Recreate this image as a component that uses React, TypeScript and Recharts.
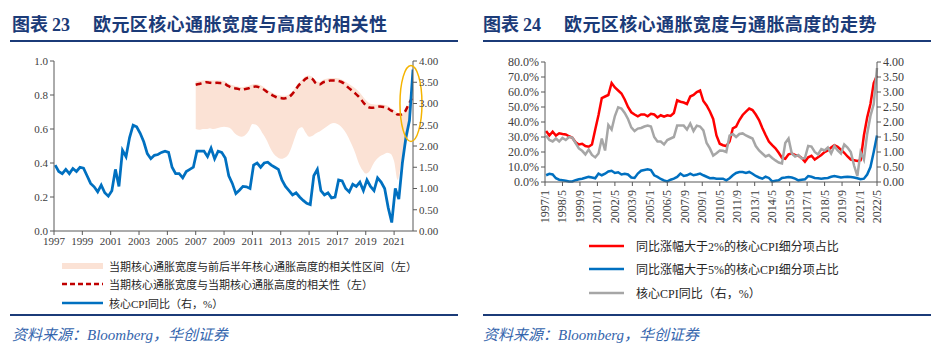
import React from "react";
import { ComposedChart, Line, Area, XAxis, YAxis, ReferenceDot } from "recharts";

// core CPI yoy (%), quarterly samples at month index 1, 4, 7 ... 304 (1997/2 .. 2022/5)
const cpiYoY = [
  1.55, 1.4, 1.35, 1.45, 1.35, 1.47, 1.4, 1.5, 1.48, 1.3,
  1.12, 1.04, 0.92, 1.08, 0.9, 0.82, 0.95, 1.45, 1.05, 1.9,
  1.75, 2.2, 2.49, 2.45, 2.3, 2.1, 1.82, 1.7, 1.78, 1.8,
  1.85, 1.88, 1.85, 1.5, 1.35, 1.35, 1.25, 1.4, 1.45, 1.5,
  1.88, 1.88, 1.88, 1.75, 1.95, 1.7, 1.88, 1.85, 1.72, 1.3,
  1.12, 0.88, 0.96, 1.05, 1.04, 1.0, 1.55, 1.6, 1.5, 1.6,
  1.62, 1.55, 1.5, 1.45, 1.2, 1.05, 0.95, 0.85, 0.9, 0.8,
  0.72, 0.65, 0.62, 1.3, 1.45, 0.95, 0.85, 0.9, 0.78, 0.8,
  1.2, 1.18, 1.0, 0.92, 1.1, 1.05, 1.15, 0.95, 1.2, 1.05,
  0.95, 1.25, 1.15, 1.0, 0.55, 0.2, 1.0, 0.75, 1.6, 2.2,
  2.6, 3.8,
];

// share of core CPI items with yoy > 2% (%)
const share2pct = [
  34, 31, 33.5, 31, 32.5, 32, 31.7, 30.5, 29.5, 26.5,
  25, 25.5, 24, 23.5, 25, 35, 44.7, 56, 57, 58,
  66, 63, 61, 59, 55, 50, 46.5, 45, 43.8, 45,
  45, 43.8, 45.5, 45, 43, 44.5, 43.5, 44.5, 44, 46,
  54.5, 53.5, 53, 52, 57, 58, 60, 61, 54, 51,
  47, 42, 31, 25.5, 24.5, 24, 27, 35.8, 37, 41.3,
  44.7, 46.9, 49, 48, 45, 41.3, 36, 31.3, 27, 24.6,
  22.5, 19.5, 16, 15.5, 18.5, 19, 18, 17.5, 16, 13.5,
  16.5, 17.5, 15, 16.5, 18, 20, 21, 23, 24.5, 23.5,
  21.5, 19.5, 17, 15, 14.5, 14, 14.5, 31, 43, 52,
  66, 71,
];

// share of core CPI items with yoy > 5% (%)
const share5pct = [
  4.5, 5.5, 5, 2.5, 1.5, 1.2, 0.8, 0.4, 0.4, 1.2,
  1.8, 2.2, 2.8, 3.4, 3, 2.5, 5.6, 4.5, 5.5, 7,
  7.5, 6, 6.5, 5, 5.5, 5, 3, 2.7, 5.6, 7.5,
  8, 8.5, 8, 4.5, 3.4, 2, 1, 0.4, 1.5, 2.2,
  3.4, 5.6, 4, 4.5, 5.6, 4.5, 5, 5.6, 4.5, 3.5,
  2.5, 2.7, 2.2, 2.2, 2.2, 1.1, 2.5, 4.5, 6, 6.7,
  6.7, 6, 6.7, 5.5, 4, 3, 2.2, 3.5, 2.7, 0.4,
  0.8, 1.1, 2.7, 3, 3.4, 3, 2.2, 1.1, 1.5, 1.8,
  4, 3.5, 2.7, 2.5, 2.2, 2.5, 2.7, 3.5, 4, 3.5,
  3, 3.4, 3.5, 3.4, 3, 2.5, 1.8, 2.2, 5, 10,
  20, 31,
];

// correlation, quarterly from 2007 Q1
const corrLine = [
  0.86, 0.865, 0.87, 0.875, 0.872, 0.87, 0.872, 0.87, 0.868, 0.855,
  0.845, 0.84, 0.836, 0.83, 0.835, 0.84, 0.848, 0.85, 0.845, 0.835,
  0.82, 0.806, 0.795, 0.785, 0.782, 0.78, 0.785, 0.8, 0.825, 0.855,
  0.875, 0.895, 0.902, 0.893, 0.868, 0.862, 0.875, 0.88, 0.885, 0.886,
  0.884, 0.878, 0.865, 0.845, 0.828, 0.81, 0.79, 0.765, 0.74, 0.727,
  0.725, 0.728, 0.732, 0.73, 0.725, 0.71, 0.7, 0.685, 0.685, 0.7,
  0.74, 0.78,
];
const corrLow = [
  0.6, 0.595, 0.6, 0.6, 0.605, 0.6, 0.605, 0.61, 0.613, 0.61,
  0.6, 0.575, 0.56, 0.555, 0.565, 0.59, 0.63, 0.625, 0.605, 0.57,
  0.535, 0.49, 0.455, 0.435, 0.425, 0.43, 0.445, 0.49, 0.55, 0.6,
  0.61, 0.58, 0.555, 0.56, 0.575, 0.585, 0.6, 0.615, 0.63, 0.635,
  0.63, 0.615, 0.59, 0.555, 0.51, 0.46, 0.4, 0.36, 0.338, 0.35,
  0.39, 0.42, 0.44, 0.45, 0.46, 0.455, 0.41, 0.3, 0.4, 0.48,
  0.56, 0.72,
];
const corrHigh = [
  0.88, 0.882, 0.885, 0.888, 0.886, 0.885, 0.886, 0.885, 0.882, 0.87,
  0.86, 0.855, 0.85, 0.846, 0.85, 0.855, 0.862, 0.864, 0.86, 0.85,
  0.835, 0.82, 0.81, 0.8, 0.797, 0.795, 0.8, 0.815, 0.84, 0.87,
  0.89, 0.91, 0.915, 0.905, 0.882, 0.877, 0.89, 0.895, 0.9, 0.9,
  0.898, 0.893, 0.882, 0.868, 0.855, 0.84, 0.82, 0.795, 0.77, 0.752,
  0.745, 0.742, 0.745, 0.742, 0.738, 0.725, 0.712, 0.695, 0.69, 0.705,
  0.745, 0.785,
];

const yearTicks = [1997, 1999, 2001, 2003, 2005, 2007, 2009, 2011, 2013, 2015, 2017, 2019, 2021];
const corrTicks = [0, 0.2, 0.4, 0.6, 0.8, 1.0];
const cpiTicks = [0, 0.5, 1, 1.5, 2, 2.5, 3, 3.5, 4];
const pctTicks = [0, 10, 20, 30, 40, 50, 60, 70, 80];
const monthTicks = [0, 16, 32, 48, 64, 80, 96, 112, 128, 144, 160, 176, 192, 208, 224, 240, 256, 272, 288, 304];
const monthLabels = [
  "1997/1", "1998/5", "1999/9", "2001/1", "2002/5", "2003/9", "2005/1", "2006/5", "2007/9", "2009/1",
  "2010/5", "2011/9", "2013/1", "2014/5", "2015/9", "2017/1", "2018/5", "2019/9", "2021/1", "2022/5",
];

const monthRows = cpiYoY.map((v, k) => ({
  m: 1 + 3 * k,
  year: 1997 + (1 + 3 * k) / 12,
  cpi: v,
  s2: share2pct[k],
  s5: share5pct[k],
}));
const corrRows = corrLine.map((v, k) => ({ year: 2007 + k / 4, corr: v, band: [corrLow[k], corrHigh[k]] }));

const NAVY = "#1b3b78";
const CJK = '"Noto Sans CJK SC", sans-serif';
const SERIF = '"Liberation Serif", "Times New Roman", serif';
const axisStroke = "#595959";
const tickText = { fill: "#404040", fontSize: 11, fontFamily: SERIF };

const MonthTick = (props: any) => {
  const { x, y, payload } = props;
  const label = monthLabels[monthTicks.indexOf(payload.value)];
  return (
    <text x={x} y={y + 2} transform={`rotate(-90 ${x} ${y + 2})`} textAnchor="end" dominantBaseline="central" fill="#404040" fontSize={12} fontFamily={SERIF}>
      {label}
    </text>
  );
};

const Title = ({ left, num, text }: { left: number; num: string; text: string }) => (
  <>
    <div style={{ position: "absolute", left, top: 10, fontFamily: CJK, fontWeight: 700, fontSize: 18, color: NAVY, whiteSpace: "nowrap" }}>
      图表 <span style={{ fontFamily: SERIF }}>{num}</span>
    </div>
    <div style={{ position: "absolute", left: left + 81, top: 10, fontFamily: CJK, fontWeight: 700, fontSize: 18, color: NAVY, whiteSpace: "nowrap", letterSpacing: 0.4 }}>
      {text}
    </div>
  </>
);

const Rule = ({ left, top }: { left: number; top: number }) => (
  <div style={{ position: "absolute", left, top, width: 448, height: 2, background: NAVY }} />
);

const Source = ({ left }: { left: number }) => (
  <div style={{ position: "absolute", left, top: 323, fontSize: 15, fontStyle: "italic", color: "#3465ad", fontFamily: `${SERIF}, ${CJK}`, whiteSpace: "nowrap" }}>
    资料来源：Bloomberg，华创证券
  </div>
);

const LegendRow = ({ left, top, swatch, text, size }: { left: number; top: number; swatch: React.ReactNode; text: string; size: number }) => (
  <div style={{ position: "absolute", left, top: top - 9, height: 18, display: "flex", alignItems: "center", whiteSpace: "nowrap" }}>
    <svg width={42} height={10} style={{ marginRight: 5 }}>{swatch}</svg>
    <span style={{ fontFamily: `${SERIF}, ${CJK}`, fontSize: size, color: "#262626" }}>{text}</span>
  </div>
);

export default function App() {
  return (
    <div style={{ position: "absolute", left: 0, top: 0, width: 943, height: 356, background: "#fff", overflow: "hidden" }}>
      <Title left={12} num="23" text="欧元区核心通胀宽度与高度的相关性" />
      <Rule left={10} top={40} />
      <Title left={483} num="24" text="欧元区核心通胀宽度与通胀高度的走势" />
      <Rule left={483} top={40} />

      <div style={{ position: "absolute", left: 0, top: 50 }}>
        <ComposedChart width={460} height={215} margin={{ top: 11, right: 7, bottom: 4, left: 14 }}>
          <XAxis
            dataKey="year"
            type="number"
            domain={[1997, 1997 + 304 / 12]}
            ticks={yearTicks}
            allowDataOverflow
            tick={tickText}
            stroke={axisStroke}
            tickSize={4}
            height={30}
            interval={0}
          />
          <YAxis yAxisId="left" domain={[0, 1]} ticks={corrTicks} interval={0} tickFormatter={(v) => Number(v).toFixed(1)} tick={tickText} stroke={axisStroke} tickSize={4} width={40} />
          <YAxis yAxisId="right" orientation="right" domain={[0, 4]} ticks={cpiTicks} interval={0} tickFormatter={(v) => Number(v).toFixed(2)} tick={tickText} stroke={axisStroke} tickSize={4} width={40} />
          <Area yAxisId="left" data={corrRows} dataKey="band" type="monotone" stroke="none" fill="#fbe2d5" fillOpacity={1} isAnimationActive={false} />
          <Line yAxisId="left" data={corrRows} dataKey="corr" type="monotone" stroke="#c00000" strokeWidth={2.5} strokeDasharray="6 4" dot={false} isAnimationActive={false} />
          <Line yAxisId="right" data={monthRows} dataKey="cpi" type="linear" stroke="#0070c0" strokeWidth={2.75} dot={false} isAnimationActive={false} />
          <ReferenceDot
            yAxisId="right"
            x={2022.19}
            y={3.0}
            shape={(p: any) => <ellipse cx={p.cx} cy={p.cy} rx={11} ry={38} fill="none" stroke="#f5b400" strokeWidth={1.5} />}
          />
        </ComposedChart>
      </div>

      <LegendRow left={62} top={266} size={11} text="当期核心通胀宽度与前后半年核心通胀高度的相关性区间（左）" swatch={<rect x={0} y={2} width={41} height={6} fill="#fbe2d5" />} />
      <LegendRow left={62} top={284} size={11} text="当期核心通胀宽度与当期核心通胀高度的相关性（左）" swatch={<line x1={0} y1={5} x2={41} y2={5} stroke="#c00000" strokeWidth={2.5} strokeDasharray="5 3" />} />
      <LegendRow left={62} top={303} size={11} text="核心CPI同比（右，%）" swatch={<line x1={0} y1={5} x2={41} y2={5} stroke="#0070c0" strokeWidth={2.5} />} />

      <div style={{ position: "absolute", left: 470, top: 50 }}>
        <ComposedChart width={460} height={180} data={monthRows} margin={{ top: 12, right: 8, bottom: 0, left: 15 }}>
          <XAxis dataKey="m" type="number" domain={[0, 304]} ticks={monthTicks} interval={0} tick={<MonthTick />} stroke={axisStroke} tickSize={4} height={48} />
          <YAxis yAxisId="left" domain={[0, 80]} ticks={pctTicks} interval={0} tickFormatter={(v) => `${Number(v).toFixed(1)}%`} tick={{ ...tickText, fontSize: 12 }} stroke={axisStroke} tickSize={4} width={60} />
          <YAxis yAxisId="right" orientation="right" domain={[0, 4]} ticks={cpiTicks} interval={0} tickFormatter={(v) => Number(v).toFixed(2)} tick={{ ...tickText, fontSize: 12 }} stroke={axisStroke} tickSize={4} width={45} />
          <Line yAxisId="left" dataKey="s2" type="linear" stroke="#ff0000" strokeWidth={2.5} dot={false} isAnimationActive={false} />
          <Line yAxisId="left" dataKey="s5" type="linear" stroke="#0070c0" strokeWidth={2.5} dot={false} isAnimationActive={false} />
          <Line yAxisId="right" dataKey="cpi" type="linear" stroke="#a6a6a6" strokeWidth={2.5} dot={false} isAnimationActive={false} />
        </ComposedChart>
      </div>

      <LegendRow left={589} top={246} size={12} text="同比涨幅大于2%的核心CPI细分项占比" swatch={<line x1={0} y1={5} x2={35} y2={5} stroke="#ff0000" strokeWidth={2.5} />} />
      <LegendRow left={589} top={269} size={12} text="同比涨幅大于5%的核心CPI细分项占比" swatch={<line x1={0} y1={5} x2={35} y2={5} stroke="#0070c0" strokeWidth={2.5} />} />
      <LegendRow left={589} top={293} size={12} text="核心CPI同比（右，%）" swatch={<line x1={0} y1={5} x2={35} y2={5} stroke="#a6a6a6" strokeWidth={2.5} />} />

      <Rule left={10} top={314} />
      <Rule left={483} top={314} />
      <Source left={12} />
      <Source left={483} />
    </div>
  );
}
